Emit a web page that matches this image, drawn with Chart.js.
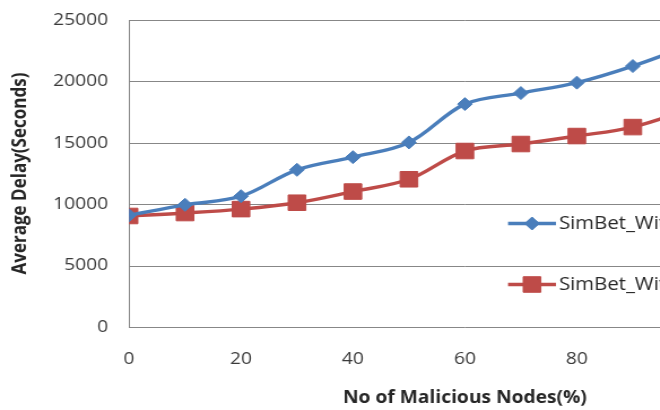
<!DOCTYPE html>
<html>
<head>
<meta charset="utf-8">
<script src="https://cdn.jsdelivr.net/npm/chart.js@4/dist/chart.umd.min.js"></script>
<style>
  html, body { margin: 0; padding: 0; background: #fff; overflow: hidden; }
  #wrap { width: 660px; height: 410px; overflow: hidden; position: relative; }
  /* the figure is drawn slightly widened horizontally */
  #chart { position: absolute; left: 0; top: 0; transform: scaleX(1.13); transform-origin: 0 0; }
</style>
</head>
<body>
<div id="wrap"><canvas id="chart" width="745" height="410"></canvas></div>
<script>
// Percentage of malicious nodes in the network
const maliciousPct = [0, 10, 20, 30, 40, 50, 60, 70, 80, 90, 100];
// Average delay in seconds for each routing variant
const delayWithAttack  = [9100, 9950, 10650, 12800, 13830, 15030, 18150, 19050, 19900, 21250, 22900];
const delayWithDefense = [9040, 9280, 9600, 10120, 11030, 12030, 14330, 14900, 15550, 16280, 17700];
const seriesNames = ['SimBet_With_Attack', 'SimBet_With_Defense'];
// Axis ticks
const xTickValues = [0, 20, 40, 60, 80, 100, 120];
const yTickValues = [0, 5000, 10000, 15000, 20000, 25000];

const toPoints = (xs, ys) => xs.map((x, i) => ({ x, y: ys[i] }));

const BLUE = '#4a7ebb';
const RED = '#be4b48';
const GRID = '#878787';
const TEXT = '#3a3a3a';
const FONT = 'Open Sans';

// Plot area bounds on the canvas
const PLOT = { left: 114.2, top: 20, bottom: 327 };

// Horizontal value gridlines, one per y tick, across the full plot width
const valueGrid = {
  id: 'valueGrid',
  beforeDatasetsDraw(chart, args, opts) {
    const { ctx, chartArea } = chart;
    const y = chart.scales.y;
    ctx.save();
    ctx.strokeStyle = opts.color;
    ctx.lineWidth = opts.width;
    y.ticks.forEach(t => {
      const py = Math.round(y.getPixelForValue(t.value)) + 0.5;
      ctx.beginPath();
      ctx.moveTo(chartArea.left, py);
      ctx.lineTo(chartArea.right, py);
      ctx.stroke();
    });
    ctx.restore();
  }
};

// Legend drawn on top of the plot area, without a background box
const overlayLegend = {
  id: 'overlayLegend',
  afterDatasetsDraw(chart, args, opts) {
    const ctx = chart.ctx;
    chart.data.datasets.forEach((ds, i) => {
      const y = opts.top + i * opts.rowGap;
      const x0 = opts.left;
      ctx.save();
      ctx.strokeStyle = ds.borderColor;
      ctx.lineWidth = ds.borderWidth;
      ctx.beginPath();
      ctx.moveTo(x0, y);
      ctx.lineTo(x0 + opts.sampleWidth, y);
      ctx.stroke();
      ctx.fillStyle = ds.pointBackgroundColor;
      ctx.strokeStyle = ds.pointBorderColor;
      ctx.lineWidth = 1;
      Chart.helpers.drawPoint(ctx, { pointStyle: ds.pointStyle, radius: ds.pointRadius, borderWidth: 1, rotation: 0 },
        x0 + opts.sampleWidth / 2, y);
      ctx.fillStyle = opts.color;
      ctx.font = opts.font;
      ctx.textAlign = 'left';
      ctx.textBaseline = 'middle';
      ctx.fillText(ds.label, x0 + opts.sampleWidth + opts.gap, y);
      ctx.restore();
    });
  }
};

// Pin the chart area to fixed bounds so the plot sits where intended
const pinArea = {
  id: 'pinArea',
  afterLayout(chart) {
    const a = chart.chartArea;
    const x = chart.scales.x, y = chart.scales.y;
    a.top = PLOT.top; a.bottom = PLOT.bottom; a.height = a.bottom - a.top;
    y.top = PLOT.top; y.bottom = PLOT.bottom; y.height = y.bottom - y.top;
    y.configure();
    x.top = PLOT.bottom; x.bottom = chart.height; x.height = x.bottom - x.top;
  }
};

new Chart(document.getElementById('chart'), {
  type: 'line',
  data: {
    datasets: [
      {
        label: seriesNames[0],
        data: toPoints(maliciousPct, delayWithAttack),
        borderColor: BLUE,
        backgroundColor: BLUE,
        pointBackgroundColor: BLUE,
        pointBorderColor: BLUE,
        borderWidth: 3.4,
        pointStyle: 'rectRot',
        pointRadius: 6.5,
        pointBorderWidth: 1,
        tension: 0.35,
        fill: false
      },
      {
        label: seriesNames[1],
        data: toPoints(maliciousPct, delayWithDefense),
        borderColor: RED,
        backgroundColor: RED,
        pointBackgroundColor: RED,
        pointBorderColor: RED,
        borderWidth: 3.4,
        pointStyle: 'rect',
        pointRadius: 11,
        pointBorderWidth: 1,
        tension: 0.35,
        fill: false
      }
    ]
  },
  options: {
    responsive: false,
    animation: false,
    devicePixelRatio: 1,
    layout: { padding: { top: 20, right: 27, bottom: 0, left: 0 } },
    plugins: {
      legend: { display: false },
      tooltip: { enabled: false },
      valueGrid: { color: GRID, width: 1 },
      overlayLegend: {
        left: 449.6, top: 223.5, rowGap: 61, sampleWidth: 42.4, gap: 2.7,
        font: '18px "' + FONT + '"', color: '#262626'
      }
    },
    scales: {
      x: {
        type: 'linear',
        min: 0,
        max: 120,
        afterBuildTicks: s => { s.ticks = xTickValues.map(v => ({ value: v })); },
        afterFit: s => { s.height = 83; },
        grid: { display: false, drawTicks: false },
        border: { display: false },
        ticks: {
          padding: 21.8,
          color: TEXT,
          font: { family: FONT, size: 17 },
          callback: v => String(v)
        },
        title: {
          display: true,
          text: 'No of Malicious Nodes(%)',
          color: '#262626',
          font: { family: FONT, size: 17, weight: 'bold' },
          padding: { top: 0, bottom: 1.8 }
        }
      },
      y: {
        min: 0,
        max: 25000,
        afterBuildTicks: s => { s.ticks = yTickValues.map(v => ({ value: v })); },
        afterFit: s => { s.width = PLOT.left; },
        grid: { display: false, drawTicks: false },
        border: { display: true, color: GRID, width: 1 },
        ticks: {
          padding: 18.6,
          color: TEXT,
          font: { family: FONT, size: 17 },
          callback: v => String(v)
        },
        title: {
          display: true,
          text: 'Average Delay(Seconds)',
          color: '#262626',
          font: { family: FONT, size: 17, weight: 'bold' },
          padding: { top: 7.5, bottom: 0 }
        }
      }
    }
  },
  plugins: [pinArea, valueGrid, overlayLegend]
});
</script>
</body>
</html>
